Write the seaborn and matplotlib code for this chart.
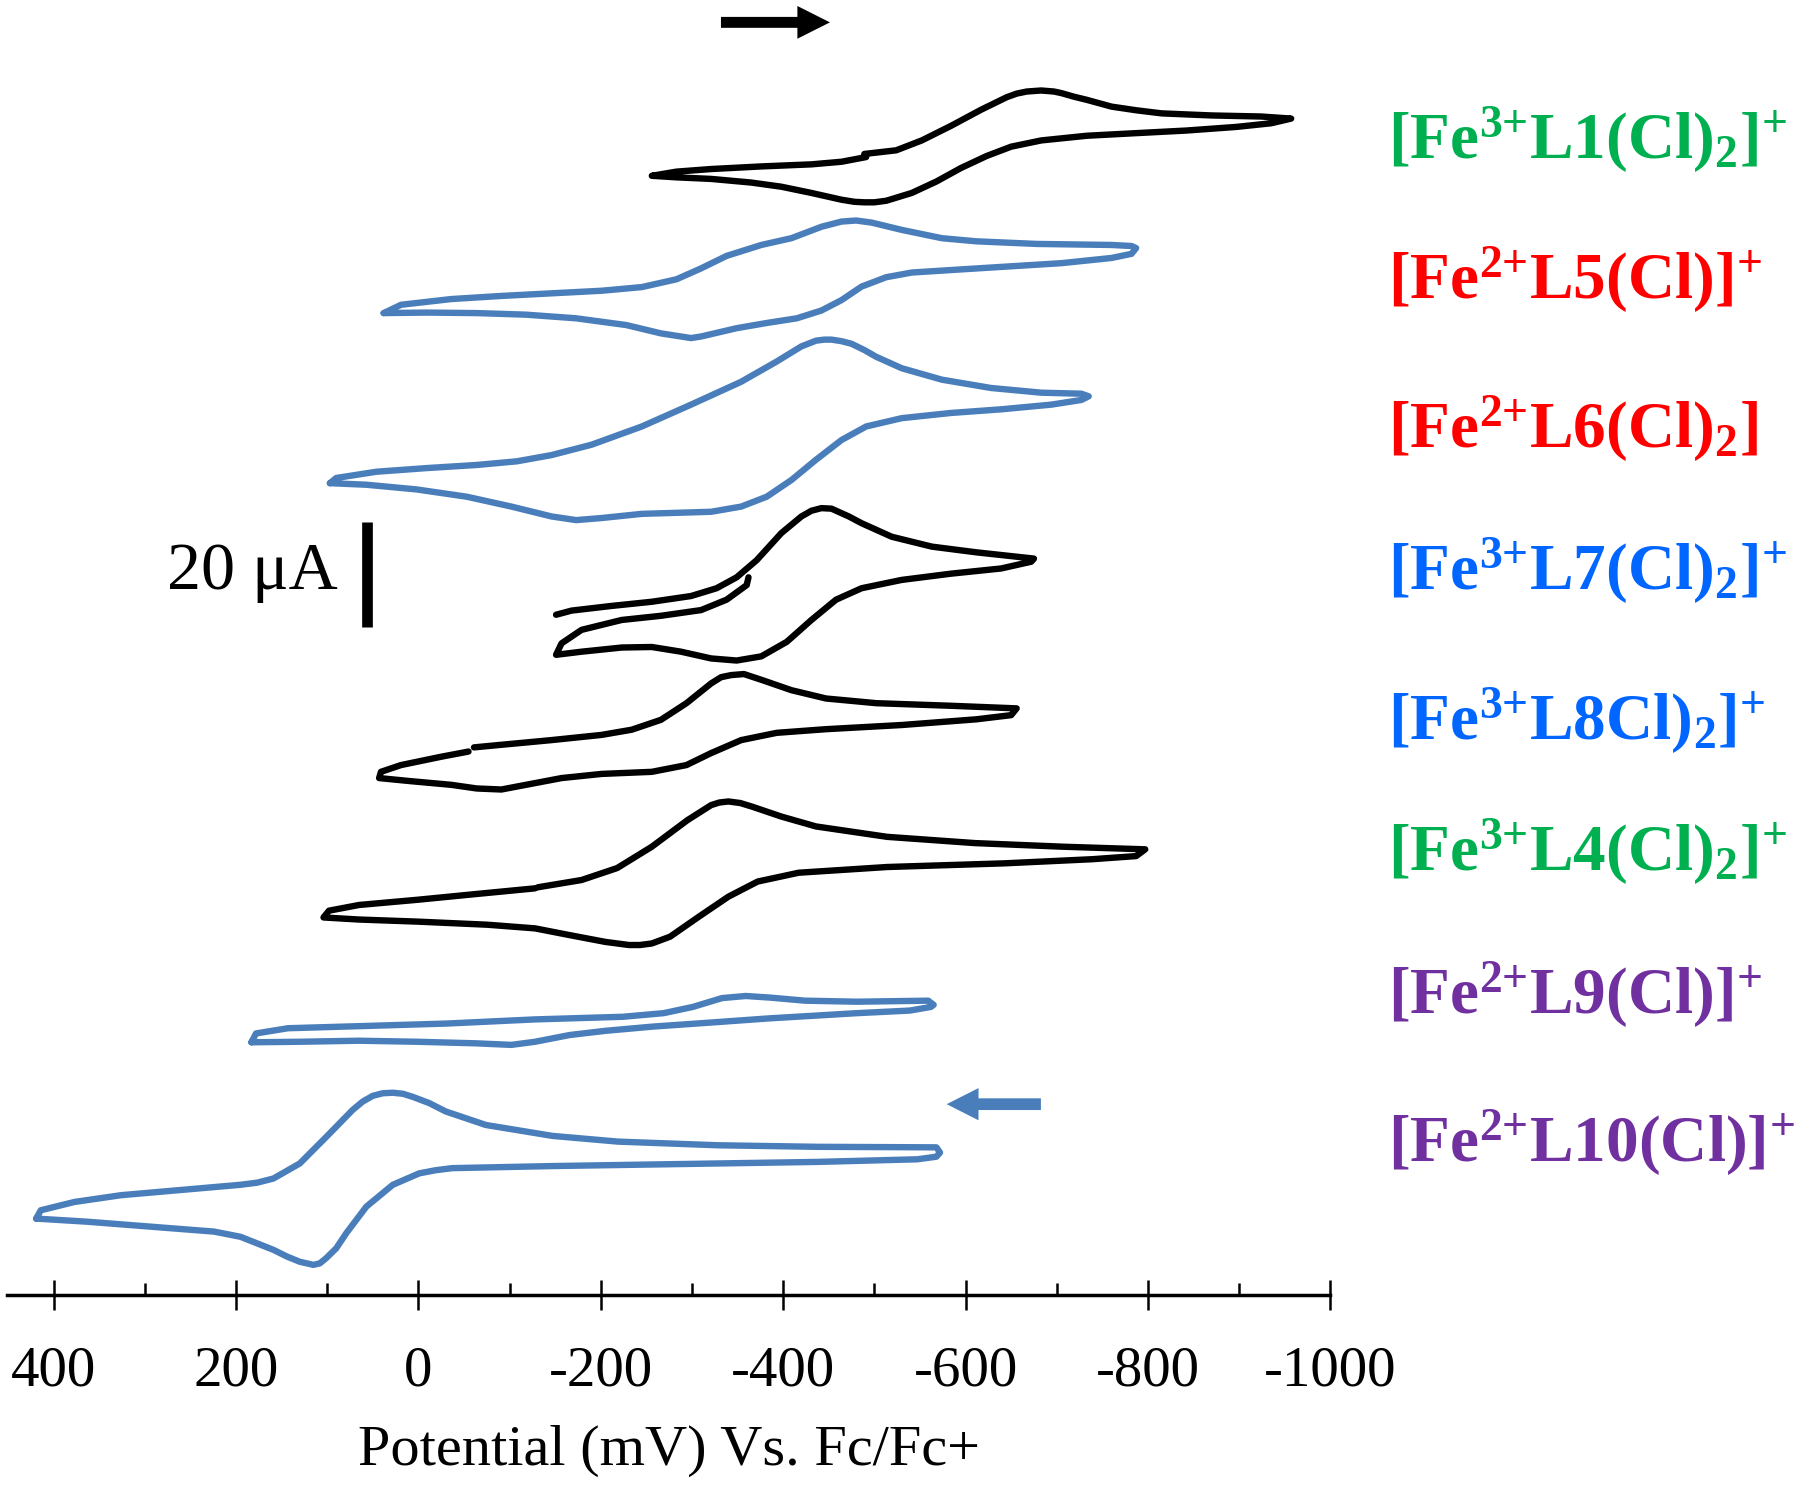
import seaborn as sns
import matplotlib.pyplot as plt
import pandas as pd

sns.set_theme(style="ticks")
plt.rcParams["font.family"] = ["Liberation Serif", "DejaVu Serif"]
plt.rcParams["mathtext.fontset"] = "custom"
plt.rcParams["mathtext.rm"] = "Liberation Serif:bold"
plt.rcParams["mathtext.it"] = "Liberation Serif:italic:bold"
plt.rcParams["mathtext.bf"] = "Liberation Serif:bold"

# cyclic voltammograms, potential in mV vs Fc/Fc+, current in uA (stacked)
L1_E = [-489, -524, -552, -584, -617, -645, -656, -667, -683, -697, -705, -719, -733, -760, -787, -815, -870, -924, -957,
        -935, -897, -842, -787, -733, -683, -650, -623, -595, -568, -541, -513, -500, -489, -478, -464, -431,
        -398, -365, -321, -283, -256, -283, -321, -376, -431, -464, -491]
L1_I = [219.4, 220.1, 222.0, 224.8, 227.9, 230.3, 231.0, 231.4, 231.6, 231.4, 231.1, 230.4, 229.8, 228.5, 227.8, 227.2, 226.8, 226.6, 226.2,
        225.3, 224.6, 223.9, 223.4, 222.9, 222.0, 220.8, 219.0, 216.7, 214.1, 211.9, 210.4, 210.1, 210.1, 210.2, 210.6, 211.9,
        213.1, 213.9, 214.6, 214.9, 215.2, 216.0, 216.5, 217.0, 217.4, 217.9, 218.8]

L5_E = [38, 19, -36, -91, -146, -201, -245, -283, -310, -338, -376, -409, -442, -464, -480,
        -497, -530, -574, -612, -678, -760, -782, -787, -782, -760, -705, -650, -595, -541, -513,
        -486, -464, -442, -415, -382, -349, -310, -299, -266, -228, -173, -118, -64, -9, 38]
L5_I = [188.8, 190.4, 191.5, 192.1, 192.6, 193.1, 193.8, 195.3, 197.4, 199.8, 201.9, 203.2, 205.4, 206.4, 206.6,
        206.2, 204.8, 203.2, 202.6, 202.1, 201.9, 201.7, 201.3, 200.2, 199.4, 198.4, 197.8, 197.2, 196.6, 195.7,
        193.9, 191.3, 189.3, 187.8, 186.9, 185.9, 184.3, 184.0, 184.9, 186.5, 187.8, 188.5, 188.8, 188.9, 188.8]

L6_E = [97, 90, 46, -9, -64, -108, -146, -190, -245, -299, -354, -393, -420, -436, -445, -453, -464,
        -475, -489, -502, -530, -574, -628, -683, -727, -735, -727, -694, -639, -584, -530, -491, -464,
        -436, -409, -382, -354, -321, -283, -245, -201, -173, -146, -102, -53, 2, 57, 97]
L6_I = [156.1, 157.1, 158.3, 159.0, 159.6, 160.3, 161.5, 163.5, 167.0, 171.2, 175.6, 179.5, 182.4, 183.5, 183.7, 183.7, 183.4,
        182.9, 181.7, 180.4, 178.2, 176.0, 174.4, 173.5, 173.3, 172.8, 172.1, 171.2, 170.3, 169.6, 168.6, 167.0, 164.4,
        160.6, 156.7, 153.5, 151.6, 150.6, 150.4, 150.2, 149.4, 149.0, 149.7, 151.6, 153.5, 154.9, 155.8, 156.1]

L7_E = [-151, -168, -212, -256, -299, -327, -349, -371, -398, -420, -431, -442, -453, -458, -472, -486, -519, -563,
        -612, -675, -672, -639, -584, -530, -486, -458, -431, -404, -376, -349, -321, -288, -256,
        -223, -179, -151, -157, -179, -223, -266, -310, -338, -360, -362]
L7_I = [130.8, 131.6, 132.5, 133.3, 134.4, 135.9, 138.0, 141.3, 146.5, 149.7, 150.8, 151.3, 151.2, 150.8, 149.7, 148.4, 145.8, 143.9,
        142.8, 141.6, 141.0, 139.7, 138.7, 137.5, 135.9, 133.7, 129.8, 125.6, 122.8, 122.0, 122.4, 123.7, 124.6,
        124.5, 123.7, 123.1, 125.3, 127.9, 129.8, 130.6, 131.7, 133.7, 136.5, 138.0]

L8_E = [-61, -91, -146, -201, -234, -266, -294, -321, -332, -343, -357, -376, -409, -447, -502, -584,
        -656, -650, -612, -530, -447, -393, -354, -321, -294, -256, -201, -157, -118, -91, -64,
        -36, 8, 43, 41, 19, -25, -55]
L8_I = [105.3, 105.8, 106.7, 107.7, 108.7, 110.6, 113.8, 117.6, 118.8, 119.2, 119.4, 118.3, 116.3, 114.7, 113.8, 113.3,
        112.8, 111.5, 110.7, 109.6, 108.8, 108.1, 106.7, 104.2, 101.9, 100.6, 100.2, 99.4, 98.1, 97.2, 97.4,
        98.1, 98.8, 99.4, 100.6, 101.9, 103.5, 104.5]

L4_E = [-131, -179, -218, -256, -295, -321, -330, -340, -353, -366, -398, -436, -514, -610, -707, -797, -787,
        -739, -642, -514, -417, -372, -340, -308, -276, -256, -243, -231, -205, -166, -128, -76, 1, 65,
        104, 98, 65, 1, -63, -128]
L4_I = [78.4, 79.8, 82.1, 86.2, 91.3, 94.2, 94.7, 94.9, 94.6, 93.9, 92.0, 90.1, 88.1, 86.9, 86.2, 85.7, 84.4,
        83.8, 83.0, 82.3, 81.2, 79.5, 76.6, 72.8, 68.9, 67.6, 67.3, 67.3, 67.9, 69.2, 70.5, 71.2, 71.8, 72.2,
        72.6, 73.9, 75.0, 76.0, 77.1, 78.2]

L9_E = [183, 178, 143, 65, -31, -128, -224, -269, -301, -333, -359, -385, -424, -481, -559,
        -565, -562, -539, -481, -385, -321, -256, -205, -166, -128, -102, -63, 1, 65, 130, 183]
L9_I = [48.6, 50.3, 51.3, 51.7, 52.2, 53.0, 53.5, 54.2, 55.4, 57.1, 57.5, 57.2, 56.6, 56.4, 56.6,
        55.8, 55.4, 54.7, 54.2, 53.2, 52.4, 51.6, 50.8, 50.0, 48.7, 48.1, 48.4, 48.7, 48.9, 48.7, 48.6]

L10_E = [419, 414, 377, 326, 254, 195, 177, 159, 130, 101, 72, 61, 50, 39, 28, 17, 6, -12, -30, -74,
         -147, -219, -328, -438, -568, -572, -568, -547, -438, -292, -147, -37, -19, -1, 28, 57,
         79, 90, 101, 108, 115, 130, 144, 159, 195, 224, 290, 363, 419]
L10_I = [14.7, 16.3, 17.9, 19.2, 20.3, 21.2, 21.6, 22.4, 25.3, 30.4, 35.6, 37.2, 38.3, 38.8, 38.9, 38.7, 38.1, 36.9, 35.3, 32.7,
         30.6, 29.5, 28.8, 28.5, 28.4, 27.4, 26.6, 26.1, 25.6, 25.2, 24.8, 24.4, 24.0, 23.4, 21.2, 17.0,
         11.9, 9.0, 7.1, 6.1, 5.8, 6.4, 7.4, 8.7, 11.2, 12.2, 13.1, 14.1, 14.7]

curve_names = ["L1", "L5", "L6", "L7", "L8", "L4", "L9", "L10"]
curve_E = [L1_E, L5_E, L6_E, L7_E, L8_E, L4_E, L9_E, L10_E]
curve_I = [L1_I, L5_I, L6_I, L7_I, L8_I, L4_I, L9_I, L10_I]

labels = [
    r"[Fe$^{3{+}}$L1(Cl)$_{2}$]$^{{+}}$",
    r"[Fe$^{2{+}}$L5(Cl)]$^{{+}}$",
    r"[Fe$^{2{+}}$L6(Cl)$_{2}$]",
    r"[Fe$^{3{+}}$L7(Cl)$_{2}$]$^{{+}}$",
    r"[Fe$^{3{+}}$L8Cl)$_{2}$]$^{{+}}$",
    r"[Fe$^{3{+}}$L4(Cl)$_{2}$]$^{{+}}$",
    r"[Fe$^{2{+}}$L9(Cl)]$^{{+}}$",
    r"[Fe$^{2{+}}$L10(Cl)]$^{{+}}$",
]

xticks = [400, 200, 0, -200, -400, -600, -800, -1000]
xtick_labels = ["400", "200", "0", "-200", "-400", "-600", "-800", "-1000"]
minor_ticks = [300, 100, -100, -300, -500, -700, -900]

black = "black"
cv_blue = "#4a7ebb"
line_colors = [black, cv_blue, cv_blue, black, black, black, cv_blue, cv_blue]
label_colors = ["#00b050", "#ff0000", "#ff0000", "#0066ff", "#0066ff", "#00b050", "#7030a0", "#7030a0"]
label_baseline_px = [158, 298, 447, 589, 739, 870, 1013, 1161]

frames = []
for name, e, i in zip(curve_names, curve_E, curve_I):
    frames.append(pd.DataFrame({"complex": name, "potential": e, "current": i}))
df = pd.concat(frames, ignore_index=True)
palette = dict(zip(curve_names, line_colors))

fig = plt.figure(figsize=(18, 14.86), dpi=100)
ax = fig.add_axes([0.0039, 0.1285, 0.7352, 0.8715])

sns.lineplot(data=df, x="potential", y="current", hue="complex", units="complex",
             estimator=None, sort=False, palette=palette, lw=4.6, legend=False,
             solid_joinstyle="round", solid_capstyle="round", ax=ax)

ax.set_xlim(451, -1000)
ax.set_ylim(0, 249.0)

sns.despine(ax=ax, left=True)
ax.spines["bottom"].set_linewidth(2.5)
ax.spines["bottom"].set_color("black")
ax.set_yticks([])
ax.set_ylabel("")
ax.set_xticks(xticks)
ax.set_xticklabels(xtick_labels)
ax.set_xticks(minor_ticks, minor=True)
ax.tick_params(axis="x", which="major", direction="inout", length=22, width=1.8,
               pad=25, labelsize=41, colors="black")
ax.tick_params(axis="x", which="minor", direction="in", length=9, width=1.8, colors="black")
ax.set_xlabel("Potential (mV) Vs. Fc/Fc+", fontsize=42, labelpad=20, color="black")

# scale bar
ax.plot([56.7, 56.7], [128.5, 148.7], color="black", lw=7.7, solid_capstyle="butt")
ax.text(88, 135.7, "20 \u03bcA", fontsize=49, ha="right", va="baseline", color="black")

# scan direction arrows
ax.arrow(-331.8, 244.7, -119.5, 0, width=2.1, head_width=6.3, head_length=35.7,
         length_includes_head=True, color="black", lw=0, clip_on=False)
ax.arrow(-682.6, 36.7, 103.3, 0, width=2.25, head_width=6.2, head_length=34.9,
         length_includes_head=True, color=cv_blue, lw=0, clip_on=False)

for text, color, ypx in zip(labels, label_colors, label_baseline_px):
    fig.text(1388 / 1800, 1 - ypx / 1486, text, color=color, fontsize=47,
             fontweight="bold", ha="left", va="baseline")

fig.savefig("out.png", dpi=100)
